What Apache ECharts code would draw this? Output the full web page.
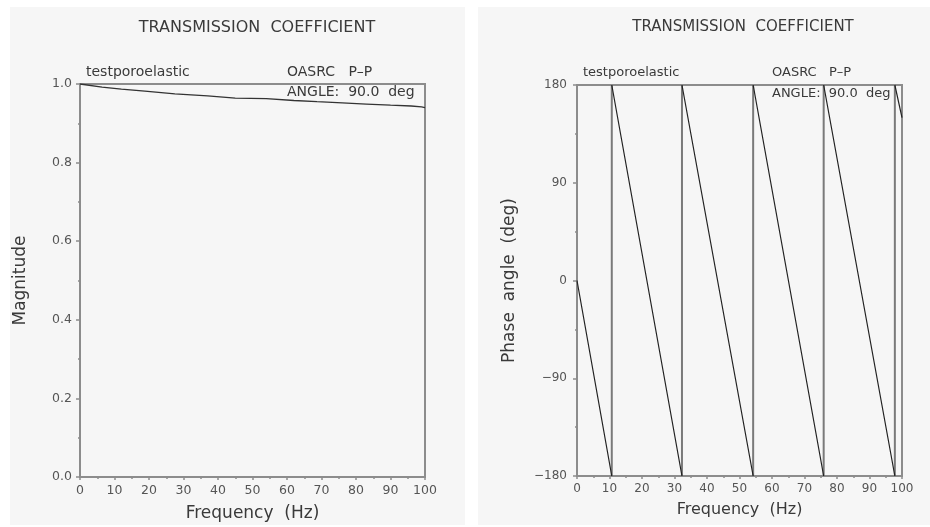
<!DOCTYPE html>
<html><head><meta charset="utf-8">
<script src="https://cdn.jsdelivr.net/npm/echarts@6/dist/echarts.min.js"></script>
<style>html,body{margin:0;padding:0;background:#fff}#c{width:930px;height:527px}</style>
</head><body><div id="c"></div>
<script>
const chartTitle = 'TRANSMISSION  COEFFICIENT';
const freqTicks = [0,10,20,30,40,50,60,70,80,90,100];
const magTicks = [0.0,0.2,0.4,0.6,0.8,1.0];
const phaseTicks = [-180,-90,0,90,180];
const magFreq = [0, 6.4, 12, 18.8, 27.5, 37, 45, 54, 62, 68.7, 76, 83, 90, 96, 99, 100];
const magVal  = [1.0, 0.992, 0.987, 0.982, 0.975, 0.970, 0.964, 0.963, 0.958, 0.955, 0.952, 0.949, 0.946, 0.944, 0.942, 0.940];
const phaseFreq = [0, 10.7, 10.7, 32.3, 32.3, 54.2, 54.2, 75.9, 75.9, 97.8, 97.8, 100];
const phaseVal  = [0, -180, 180, -180, 180, -180, 180, -180, 180, -180, 180, 150];

const FONT = '"DejaVu Sans", Verdana, sans-serif';
const axisCol = '#8c8c8c';
const txtCol = '#3a3a3a';

function xAx(idx, fs, nfs, gap){
  return {gridIndex: idx, type:'value', min:0, max:100, interval:10,
    name:'Frequency  (Hz)', nameLocation:'middle', nameGap:gap,
    nameTextStyle:{fontFamily:FONT, fontSize:nfs, color:txtCol},
    axisLine:{onZero:false, lineStyle:{color:axisCol, width:2}},
    axisTick:{length:3, lineStyle:{color:axisCol, width:1.5}},
    minorTick:{show:true, splitNumber:2, length:2, lineStyle:{color:axisCol, width:1.5}},
    axisLabel:{fontFamily:FONT, fontSize:fs, color:'#555', margin:7},
    splitLine:{show:false}};
}
const mData = magFreq.map((f,i)=>[f, magVal[i]]);
// split phase into sloping segments and vertical wrap jumps
const slopeData = [], jumpData = [];
for (let i = 0; i < phaseFreq.length - 1; i++) {
  const a = [phaseFreq[i], phaseVal[i]], b = [phaseFreq[i+1], phaseVal[i+1]];
  const target = (phaseFreq[i] === phaseFreq[i+1]) ? jumpData : slopeData;
  target.push(a, b, '-');
}

const chart = echarts.init(document.getElementById('c'), null, {renderer:'canvas'});
chart.setOption({
  animation:false,
  backgroundColor:'#ffffff',
  graphic:[
    {type:'rect', shape:{x:10,y:7,width:455,height:518}, style:{fill:'#f6f6f6'}, z:-10},
    {type:'rect', shape:{x:478,y:7,width:452,height:518}, style:{fill:'#f6f6f6'}, z:-10},
    {type:'text', left:86, top:65, style:{text:'testporoelastic', font:'14px '+FONT, fill:txtCol}},
    {type:'text', left:287, top:65, style:{text:'OASRC   P\u2013P', font:'14px '+FONT, fill:txtCol}},
    {type:'text', left:287, top:85, style:{text:'ANGLE:  90.0  deg', font:'14px '+FONT, fill:txtCol}},
    {type:'text', left:583, top:66, style:{text:'testporoelastic', font:'13px '+FONT, fill:txtCol}},
    {type:'text', left:772, top:66, style:{text:'OASRC   P\u2013P', font:'13px '+FONT, fill:txtCol}},
    {type:'text', left:772, top:87, style:{text:'ANGLE:  90.0  deg', font:'13px '+FONT, fill:txtCol}}
  ],
  title:[
    {text:chartTitle, left:252, top:15, textAlign:'center',
     textStyle:{fontFamily:FONT, fontSize:16, fontWeight:'normal', color:'#3a3a3a'}},
    {text:chartTitle, left:738, top:15, textAlign:'center',
     textStyle:{fontFamily:FONT, fontSize:15, fontWeight:'normal', color:'#3a3a3a'}}
  ],
  grid:[
    {left:80, top:84, width:345, height:394, show:true, borderColor:axisCol, borderWidth:2, backgroundColor:'transparent'},
    {left:577, top:85, width:325, height:391, show:true, borderColor:axisCol, borderWidth:2, backgroundColor:'transparent'}
  ],
  xAxis:[xAx(0, 12.5, 17, 28), xAx(1, 12, 16, 26)],
  yAxis:[
    {gridIndex:0, type:'value', min:0, max:1, interval:0.2,
     name:'Magnitude', nameLocation:'middle', nameGap:51,
     nameTextStyle:{fontFamily:FONT, fontSize:17, color:txtCol},
     axisLine:{show:true, lineStyle:{color:axisCol, width:2}},
     axisTick:{show:true, length:4, lineStyle:{color:axisCol, width:1.5}},
     minorTick:{show:true, splitNumber:2, length:2, lineStyle:{color:axisCol, width:1.5}},
     axisLabel:{fontFamily:FONT, fontSize:12.5, color:'#555', margin:8,
       formatter:v=>v.toFixed(1)},
     splitLine:{show:false}},
    {gridIndex:1, type:'value', min:-180, max:180, interval:90,
     name:'Phase  angle  (deg)', nameLocation:'middle', nameGap:59,
     nameTextStyle:{fontFamily:FONT, fontSize:17, color:txtCol},
     axisLine:{show:true, onZero:false, lineStyle:{color:axisCol, width:2}},
     axisTick:{show:true, length:4, lineStyle:{color:axisCol, width:1.5}},
     minorTick:{show:true, splitNumber:2, length:2, lineStyle:{color:axisCol, width:1.5}},
     axisLabel:{fontFamily:FONT, fontSize:12, color:'#555', margin:10,
       formatter:v=>String(v).replace('-','\u2212')},
     splitLine:{show:false}}
  ],
  series:[
    {type:'line', xAxisIndex:0, yAxisIndex:0, data:mData, showSymbol:false,
     lineStyle:{color:'#333', width:1.3}},
    {type:'line', xAxisIndex:1, yAxisIndex:1, data:jumpData, showSymbol:false, connectNulls:false,
     lineStyle:{color:'#7a7a7a', width:2}},
    {type:'line', xAxisIndex:1, yAxisIndex:1, data:slopeData, showSymbol:false, connectNulls:false,
     lineStyle:{color:'#222', width:1.2}}
  ]
});
</script></body></html>
